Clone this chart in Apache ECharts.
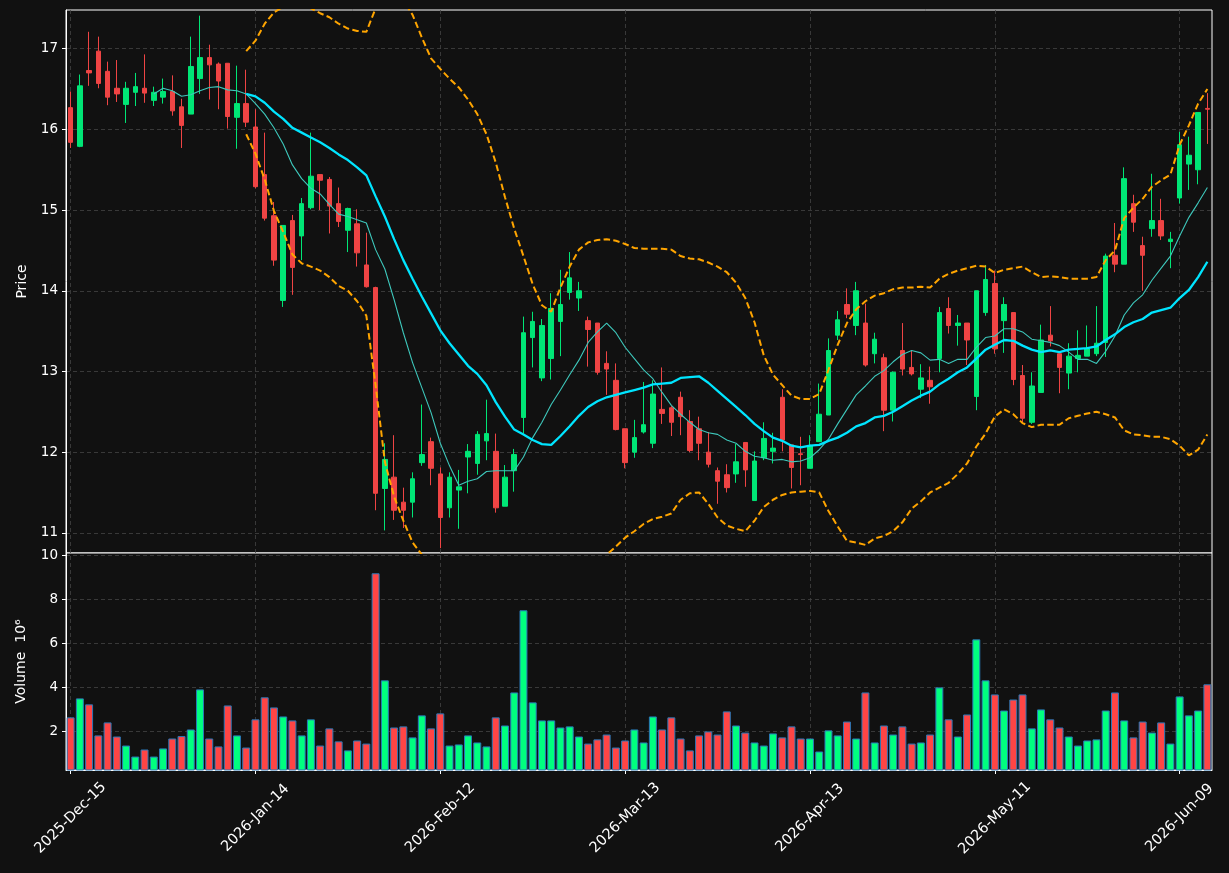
<!DOCTYPE html>
<html><head><meta charset="utf-8">
<script src="https://cdn.jsdelivr.net/npm/echarts@6/dist/echarts.min.js"></script>
<style>html,body{margin:0;padding:0;background:#111111;}#chart{width:1229px;height:873px;}</style>
</head><body><div id="chart"></div>
<script>
// Trading days (exchange calendar) shown on the x axis
const tradingDays = [
  ['2025', 'Dec', [15,16,17,18,19,22,23,24,26,29,30,31]],
  ['2026', 'Jan', [2,5,6,7,8,9,12,13,14,15,16,20,21,22,23,26,27,28,29,30]],
  ['2026', 'Feb', [2,3,4,5,6,9,10,11,12,13,17,18,19,20,23,24,25,26,27]],
  ['2026', 'Mar', [2,3,4,5,6,9,10,11,12,13,16,17,18,19,20,23,24,25,26,27,30,31]],
  ['2026', 'Apr', [1,2,6,7,8,9,10,13,14,15,16,17,20,21,22,23,24,27,28,29,30]],
  ['2026', 'May', [1,4,5,6,7,8,11,12,13,14,15,18,19,20,21,22,26,27,28,29]],
  ['2026', 'Jun', [1,2,3,4,5,8,9,10,11,12]]
];
const openP = [16.27,15.79,16.73,16.97,16.72,16.51,16.31,16.46,16.51,16.36,16.40,16.47,16.28,16.19,16.63,16.89,16.81,16.82,16.15,16.32,
  16.03,15.44,14.93,13.88,14.87,14.68,15.03,15.44,15.38,15.08,14.75,14.83,14.32,14.04,11.55,11.69,11.38,11.38,11.87,12.13,
  11.73,11.31,11.53,11.94,11.86,12.14,12.01,11.33,11.77,12.43,13.42,12.92,13.16,13.62,13.98,13.91,13.63,13.60,13.10,12.89,
  12.29,12.00,12.25,12.11,12.53,12.55,12.68,12.38,12.29,12.00,11.77,11.72,11.73,12.12,11.40,11.93,12.01,12.68,12.09,11.98,
  11.80,12.13,12.46,13.45,13.83,13.57,13.60,13.22,13.17,12.52,13.26,13.05,12.78,12.89,13.16,13.78,13.57,13.60,12.69,13.73,
  14.09,13.63,13.73,12.95,12.37,12.74,13.45,13.22,12.98,13.16,13.19,13.22,13.36,14.44,14.33,15.08,14.56,14.77,14.87,14.61,
  15.15,15.57,15.50,16.26];
const closeP = [15.84,16.54,16.70,16.57,16.40,16.44,16.51,16.53,16.45,16.46,16.47,16.23,16.05,16.78,16.89,16.80,16.60,16.16,16.32,16.09,
  15.29,14.90,14.38,14.81,14.29,15.08,15.42,15.37,15.05,14.86,15.02,14.47,14.05,11.49,11.91,11.28,11.28,11.67,11.97,11.80,
  11.19,11.69,11.57,12.01,12.22,12.23,11.31,11.69,11.97,13.48,13.62,13.57,13.78,13.83,14.16,14.00,13.52,12.99,13.03,12.28,
  11.87,12.18,12.34,12.72,12.48,12.37,12.44,12.02,12.11,11.85,11.64,11.56,11.88,11.78,11.89,12.17,12.05,12.15,11.81,11.97,
  12.08,12.47,13.26,13.64,13.71,14.00,13.08,13.40,12.52,12.99,13.03,12.97,12.92,12.81,13.73,13.57,13.60,13.39,14.00,14.14,
  13.28,13.83,12.90,12.42,12.82,13.39,13.38,13.05,13.19,13.20,13.28,13.35,14.43,14.33,15.39,14.85,14.44,14.87,14.68,14.64,
  15.81,15.68,16.21,16.25];
const lowP = [15.77,15.78,16.54,16.51,16.30,16.34,16.08,16.29,16.33,16.29,16.32,16.17,15.77,16.19,16.44,16.37,16.25,16.01,15.76,16.03,
  15.27,14.87,14.31,13.80,13.95,14.38,15.01,15.00,14.71,14.79,14.48,14.30,14.04,11.28,11.03,11.16,11.06,11.19,11.83,11.59,
  10.81,11.19,11.05,11.49,11.72,11.90,11.25,11.33,11.51,12.23,13.05,12.88,12.90,13.19,13.89,13.75,13.06,12.96,12.71,12.27,
  11.80,11.93,12.23,12.05,12.35,12.20,12.21,12.00,11.90,11.81,11.36,11.50,11.62,11.57,11.40,11.90,11.86,12.01,11.55,11.59,
  11.80,12.13,12.46,13.39,13.66,13.45,13.06,13.10,12.26,12.38,12.95,12.95,12.67,12.60,12.99,13.47,13.32,13.08,12.52,13.69,
  13.22,13.23,12.83,12.37,12.35,12.74,13.31,12.73,12.78,12.99,13.19,13.19,13.18,14.23,14.33,14.73,14.00,14.67,14.63,14.28,
  15.08,15.25,15.32,15.82];
const highP = [16.47,16.68,17.21,17.15,16.84,16.86,16.59,16.70,16.93,16.53,16.63,16.67,16.38,17.15,17.41,17.05,16.83,16.82,16.79,16.74,
  16.25,15.96,15.10,14.81,14.94,15.15,15.96,15.44,15.41,15.28,15.03,15.01,14.72,14.05,12.11,12.21,11.56,11.75,12.59,12.18,
  11.81,11.75,11.78,12.10,12.26,12.65,12.23,11.84,12.04,13.68,13.74,13.65,13.97,14.26,14.48,14.11,13.68,13.60,13.25,13.10,
  12.29,12.40,12.87,12.89,13.05,12.57,12.75,12.52,12.44,12.25,11.81,11.85,12.10,12.12,12.01,12.37,12.24,12.78,12.09,12.19,
  12.21,12.85,13.41,13.75,14.03,14.11,13.84,13.48,13.22,13.00,13.60,13.26,13.09,13.06,13.80,13.92,13.70,13.60,14.00,14.32,
  14.25,13.92,13.73,13.08,12.99,13.58,13.81,13.22,13.35,13.51,13.57,13.81,14.46,14.84,15.53,15.19,14.67,15.45,15.14,14.73,
  15.97,15.91,16.21,16.45];
// Volume in millions
const volume = [2.64,3.50,3.23,1.82,2.41,1.77,1.36,0.86,1.18,0.86,1.23,1.68,1.79,2.09,3.91,1.68,1.32,3.18,1.82,1.27,
  2.55,3.55,3.09,2.68,2.50,1.82,2.55,1.36,2.14,1.55,1.14,1.59,1.45,9.18,4.32,2.18,2.23,1.73,2.73,2.14,
  2.82,1.36,1.41,1.82,1.50,1.32,2.64,2.27,3.77,7.50,3.32,2.50,2.50,2.18,2.23,1.77,1.45,1.64,1.86,1.27,
  1.59,2.09,1.50,2.68,2.09,2.64,1.68,1.14,1.82,2.00,1.86,2.91,2.27,1.95,1.50,1.36,1.91,1.73,2.23,1.68,
  1.68,1.09,2.05,1.82,2.45,1.68,3.77,1.50,2.27,1.86,2.23,1.45,1.50,1.86,4.00,2.55,1.77,2.77,6.18,4.32,
  3.68,2.95,3.45,3.68,2.14,3.00,2.55,2.18,1.77,1.36,1.59,1.64,2.95,3.77,2.50,1.73,2.45,1.95,2.41,1.45,
  3.59,2.73,2.95,4.14];
// Thin moving average, first value at bar 9
const maShortStart = 9;
const maShort = [16.44,16.51,16.48,16.41,16.43,16.48,16.52,16.53,16.49,16.48,
  16.44,16.32,16.19,16.02,15.82,15.56,15.39,15.27,15.20,15.07,
  14.95,14.92,14.88,14.84,14.51,14.27,13.89,13.48,13.11,12.80,
  12.49,12.11,11.83,11.59,11.64,11.67,11.76,11.77,11.77,11.77,
  11.94,12.18,12.37,12.59,12.77,12.96,13.14,13.36,13.49,13.60,
  13.48,13.30,13.16,13.02,12.91,12.74,12.58,12.47,12.37,12.28,
  12.24,12.22,12.15,12.11,12.01,11.95,11.93,11.90,11.91,11.88,
  11.89,11.93,12.03,12.16,12.35,12.53,12.71,12.82,12.94,13.01,
  13.12,13.21,13.26,13.23,13.14,13.15,13.10,13.15,13.15,13.30,
  13.42,13.44,13.53,13.53,13.49,13.40,13.38,13.36,13.32,13.24,
  13.15,13.15,13.10,13.25,13.44,13.70,13.85,13.95,14.13,14.28,
  14.43,14.68,14.91,15.09,15.28];
// Thick moving average and bands, first value at bar 19
const maLongStart = 19;
const maLong = [16.44,16.41,16.33,16.22,16.13,16.02,15.96,15.90,15.84,15.77,
  15.69,15.62,15.53,15.43,15.17,14.92,14.64,14.38,14.15,13.93,
  13.72,13.51,13.35,13.21,13.07,12.97,12.83,12.62,12.44,12.28,
  12.22,12.15,12.10,12.09,12.20,12.32,12.45,12.56,12.63,12.68,
  12.71,12.74,12.77,12.80,12.84,12.85,12.86,12.92,12.93,12.94,
  12.86,12.76,12.66,12.56,12.46,12.35,12.26,12.18,12.14,12.08,
  12.06,12.08,12.09,12.14,12.18,12.24,12.32,12.36,12.43,12.45,
  12.50,12.57,12.64,12.70,12.75,12.84,12.91,12.99,13.05,13.16,
  13.27,13.33,13.39,13.38,13.32,13.27,13.24,13.26,13.24,13.27,
  13.28,13.29,13.31,13.39,13.46,13.55,13.61,13.65,13.73,13.76,
  13.79,13.91,14.01,14.17,14.36];
const bandUpper = [16.97,17.10,17.31,17.45,17.52,17.60,17.57,17.50,17.44,17.39,
  17.31,17.25,17.22,17.21,17.50,17.96,17.83,17.60,17.42,17.14,
  16.88,16.75,16.63,16.52,16.37,16.19,15.94,15.59,15.16,14.77,
  14.43,14.08,13.82,13.74,14.04,14.30,14.51,14.60,14.63,14.64,
  14.62,14.58,14.53,14.52,14.52,14.52,14.51,14.43,14.40,14.39,
  14.35,14.30,14.23,14.10,13.91,13.61,13.20,12.96,12.83,12.70,
  12.66,12.66,12.72,13.02,13.33,13.60,13.77,13.87,13.94,13.97,
  14.02,14.04,14.04,14.05,14.04,14.15,14.21,14.25,14.28,14.31,
  14.30,14.22,14.26,14.28,14.30,14.23,14.17,14.18,14.17,14.15,
  14.15,14.15,14.17,14.38,14.50,14.90,15.03,15.14,15.29,15.37,
  15.44,15.81,16.05,16.32,16.50];
const bandLower = [15.94,15.70,15.38,14.99,14.73,14.45,14.34,14.30,14.25,14.17,
  14.06,14.00,13.87,13.69,12.83,11.88,11.45,11.15,10.88,10.73,
  10.56,10.28,10.08,9.91,9.78,9.75,9.72,9.65,9.72,9.80,
  10.00,10.21,10.38,10.43,10.37,10.33,10.39,10.53,10.63,10.73,
  10.83,10.94,11.02,11.11,11.17,11.20,11.24,11.41,11.49,11.50,
  11.36,11.19,11.09,11.05,11.02,11.15,11.32,11.41,11.47,11.50,
  11.51,11.52,11.50,11.27,11.08,10.90,10.88,10.85,10.93,10.96,
  11.02,11.13,11.30,11.39,11.50,11.56,11.62,11.73,11.86,12.07,
  12.23,12.44,12.53,12.47,12.36,12.31,12.34,12.34,12.34,12.42,
  12.45,12.48,12.50,12.47,12.43,12.27,12.22,12.21,12.19,12.19,
  12.16,12.08,11.96,12.03,12.22];
const priceTicks = [11, 12, 13, 14, 15, 16, 17];
const volumeTicks = [2, 4, 6, 8, 10];
const xTickIndex = [0, 20, 40, 60, 80, 100, 120];

// ---- build library inputs ----
const dates = [];
tradingDays.forEach(([y, m, days]) => days.forEach(d => dates.push(y + '-' + m + '-' + String(d).padStart(2, '0'))));
const candles = openP.map((o, i) => [o, closeP[i], lowP[i], highP[i]]);
const pad = (start, arr) => new Array(start).fill('-').concat(arr);

const UP = '#00e676', DOWN = '#ef4444';
const VUP = '#00ff7f', VDOWN = '#ff4545';
const volData = volume.map((v, i) => ({
  value: v,
  itemStyle: { color: closeP[i] >= openP[i] ? VUP : VDOWN }
}));

const gridLine = { color: '#444444', type: [4, 3], width: 0.8 };
const vLines = xTickIndex.map(i => ({ xAxis: dates[i] }));
const FONT = 'DejaVu Sans';
const bandStyle = { color: '#ffa500', width: 2, type: [6.5, 3.3] };

const chart = echarts.init(document.getElementById('chart'), null, { renderer: 'canvas' });
chart.setOption({
  animation: false,
  backgroundColor: '#111111',
  textStyle: { fontFamily: FONT },
  grid: [
    { left: 66, top: 10, width: 1146, height: 543, show: true, borderColor: '#ffffff', borderWidth: 1, backgroundColor: '#111111' },
    { left: 66, top: 553, width: 1146, height: 217, show: true, borderColor: '#ffffff', borderWidth: 1, backgroundColor: '#111111' }
  ],
  xAxis: [
    { type: 'category', gridIndex: 0, data: dates, boundaryGap: true,
      axisLine: { show: false }, axisTick: { show: false }, axisLabel: { show: false }, splitLine: { show: false } },
    { type: 'category', gridIndex: 1, data: dates, boundaryGap: true,
      axisLine: { show: true, lineStyle: { color: '#ffffff' } },
      axisTick: { show: true, alignWithLabel: true, interval: 19, length: 4, lineStyle: { color: '#ffffff' } },
      axisLabel: { show: true, interval: 19, rotate: 45, align: 'center', verticalAlign: 'middle', margin: 48,
        color: '#ffffff', fontSize: 14.5, fontFamily: FONT },
      splitLine: { show: false } }
  ],
  yAxis: [
    { type: 'value', gridIndex: 0, min: 10.75, max: 17.48,
      axisLine: { show: true, lineStyle: { color: '#ffffff' } },
      axisTick: { show: true, customValues: priceTicks, length: 4, lineStyle: { color: '#ffffff' } },
      axisLabel: { customValues: priceTicks, color: '#ffffff', fontSize: 13.5, margin: 8, fontFamily: FONT },
      splitLine: { show: true, lineStyle: gridLine },
      name: 'Price', nameLocation: 'middle', nameRotate: 90, nameGap: 37,
      nameTextStyle: { color: '#ffffff', fontSize: 14, fontFamily: FONT } },
    { type: 'value', gridIndex: 1, min: 0.25, max: 10.1,
      axisLine: { show: true, lineStyle: { color: '#ffffff' } },
      axisTick: { show: true, customValues: volumeTicks, length: 4, lineStyle: { color: '#ffffff' } },
      axisLabel: { customValues: volumeTicks, color: '#ffffff', fontSize: 13.5, margin: 8, fontFamily: FONT },
      splitLine: { show: true, lineStyle: gridLine },
      name: 'Volume  10⁶', nameLocation: 'middle', nameRotate: 90, nameGap: 38,
      nameTextStyle: { color: '#ffffff', fontSize: 14, fontFamily: FONT } }
  ],
  series: [
    { name: 'vgrid-price', type: 'line', xAxisIndex: 0, yAxisIndex: 0, data: [], z: 1, silent: true,
      markLine: { z: 1, silent: true, symbol: 'none', label: { show: false }, lineStyle: gridLine, data: vLines, animation: false } },
    { name: 'vgrid-volume', type: 'line', xAxisIndex: 1, yAxisIndex: 1, data: [], z: 1, silent: true,
      markLine: { z: 1, silent: true, symbol: 'none', label: { show: false }, lineStyle: gridLine, data: vLines, animation: false } },
    { name: 'OHLC', type: 'candlestick', xAxisIndex: 0, yAxisIndex: 0, data: candles, barWidth: 5, z: 3,
      itemStyle: { color: UP, color0: DOWN, borderColor: UP, borderColor0: DOWN, borderWidth: 1 } },
    { name: 'MA short', type: 'line', xAxisIndex: 0, yAxisIndex: 0, data: pad(maShortStart, maShort), showSymbol: false, z: 4,
      lineStyle: { color: '#3ec8bc', width: 1.1 } },
    { name: 'MA long', type: 'line', xAxisIndex: 0, yAxisIndex: 0, data: pad(maLongStart, maLong), showSymbol: false, z: 5,
      lineStyle: { color: '#00e5ff', width: 2.3 } },
    { name: 'Upper', type: 'line', xAxisIndex: 0, yAxisIndex: 0, data: pad(maLongStart, bandUpper), showSymbol: false, z: 4,
      lineStyle: bandStyle },
    { name: 'Lower', type: 'line', xAxisIndex: 0, yAxisIndex: 0, data: pad(maLongStart, bandLower), showSymbol: false, z: 4,
      lineStyle: bandStyle },
    { name: 'Volume', type: 'bar', xAxisIndex: 1, yAxisIndex: 1, data: volData, barWidth: '86%', z: 3,
      itemStyle: { borderColor: '#2a78b8', borderWidth: 1 } }
  ]
});
</script>
</body></html>
